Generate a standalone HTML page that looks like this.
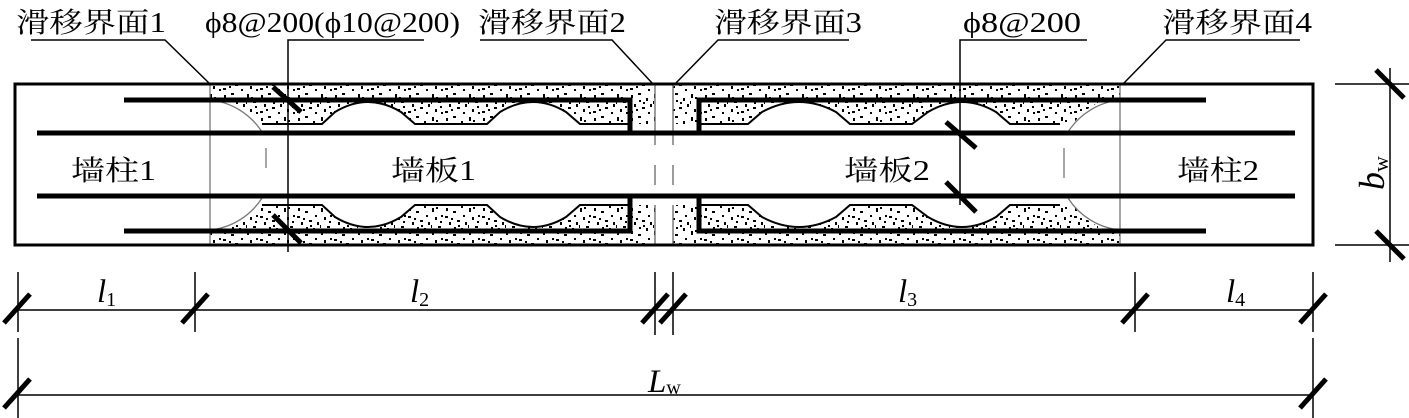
<!DOCTYPE html>
<html><head><meta charset="utf-8"><style>html,body{margin:0;padding:0;background:#fff}svg{display:block}</style></head><body>
<svg width="1409" height="418" viewBox="0 0 1409 418" xmlns="http://www.w3.org/2000/svg" font-family="Liberation Serif, Noto Serif CJK SC, serif">
<defs>
<pattern id="h" width="37" height="23" patternUnits="userSpaceOnUse">
<rect width="37" height="23" fill="#fff"/>
<g fill="#000">
<rect x="2" y="3" width="2" height="3"/><rect x="9" y="1" width="3" height="2"/><rect x="17" y="6" width="2" height="3"/><rect x="25" y="2" width="2" height="4"/><rect x="31" y="9" width="3" height="2"/>
<rect x="5" y="12" width="2" height="3"/><rect x="13" y="15" width="3" height="2"/><rect x="21" y="12" width="2" height="3"/><rect x="28" y="17" width="2" height="3"/><rect x="1" y="19" width="3" height="2"/>
<rect x="10" y="8" width="2" height="2"/><rect x="34" y="20" width="2" height="2"/><rect x="19" y="20" width="2" height="2"/>
<rect x="29" y="5" width="2" height="2"/><rect x="14" y="10" width="2" height="2"/><rect x="24" y="9" width="1" height="3"/><rect x="7" y="17" width="2" height="2"/><rect x="33" y="14" width="2" height="2"/>
</g></pattern>
</defs>
<g id="top">
<path d="M210,84 H655 V124 H580 L566,112 Q533,92 500,112 L487,124 H415 L401,112 Q368,92 335,112 L322,124 H257 A70,70 0 0 0 226,100 H210 Z" fill="url(#h)"/>
<path d="M673,84 H1120 V100 H1104 A70,70 0 0 0 1073,124 H1010 L996,112 Q962,92 928,112 L912,124 H850 L836,112 Q799,92 762,112 L748,124 H673 Z" fill="url(#h)"/>
<path d="M630,124 H580 L566,112 Q533,92 500,112 L487,124 H415 L401,112 Q368,92 335,112 L322,124 H262" fill="none" stroke="#000" stroke-width="2"/>
<path d="M699,124 H748 L762,112 Q799,92 836,112 L850,124 H912 L928,112 Q962,92 996,112 L1010,124 H1060" fill="none" stroke="#000" stroke-width="2"/>
</g>
<use href="#top" transform="matrix(1,0,0,-1,0,329)"/>
<g fill="none" stroke="#777" stroke-width="1.3">
<path d="M210,100 A70,70 0 0 1 262,132"/><path d="M266,148 V168"/><path d="M262,198 A70,70 0 0 1 210,230"/>
<path d="M1120,100 A70,70 0 0 0 1068,132"/><path d="M1064,148 V178"/><path d="M1068,198 A70,70 0 0 0 1120,230"/>
<line x1="210" y1="84" x2="210" y2="245"/><line x1="1120" y1="84" x2="1120" y2="245"/>
</g>
<g stroke="#666" stroke-width="1.3">
<path d="M655,84 V145 M655,165 V185 M655,205 V245 M673,84 V145 M673,165 V185 M673,205 V245"/>
</g>
<g stroke="#000" stroke-width="5" fill="none">
<path d="M124,100 H630 V133"/><path d="M1206,100 H699 V133"/>
<path d="M37,133 H1295"/><path d="M37,196 H1295"/>
<path d="M124,231 H630 V196"/><path d="M1206,231 H699 V196"/>
<line x1="273" y1="87" x2="301" y2="112"/><line x1="273" y1="215" x2="301" y2="243"/>
<line x1="946" y1="122" x2="976" y2="148"/><line x1="946" y1="182" x2="976" y2="212"/>
</g>
<rect x="15" y="84" width="1298" height="161" fill="none" stroke="#000" stroke-width="3"/>
<g stroke="#000" stroke-width="1.5" fill="none">
<path d="M31,40 H165 L210,84"/><path d="M424,40 H288 V252"/><path d="M480,40 H612 L653,84"/>
<path d="M849,40 H718 L675,84"/><path d="M1087,40 H960 V205"/><path d="M1300,40 H1166 L1123,84"/>
</g>
<g font-size="28" fill="#000">
<text x="16" y="32" textLength="150" lengthAdjust="spacingAndGlyphs">滑移界面1</text>
<text x="205" y="32" textLength="255" lengthAdjust="spacingAndGlyphs">ϕ8@200(ϕ10@200)</text>
<text x="478" y="32" textLength="148" lengthAdjust="spacingAndGlyphs">滑移界面2</text>
<text x="714" y="32" textLength="148" lengthAdjust="spacingAndGlyphs">滑移界面3</text>
<text x="963" y="32" textLength="118" lengthAdjust="spacingAndGlyphs">ϕ8@200</text>
<text x="1162" y="32" textLength="150" lengthAdjust="spacingAndGlyphs">滑移界面4</text>
<text x="71" y="180" textLength="85" lengthAdjust="spacingAndGlyphs">墙柱1</text>
<text x="391" y="180" textLength="85" lengthAdjust="spacingAndGlyphs">墙板1</text>
<text x="844" y="180" textLength="86" lengthAdjust="spacingAndGlyphs">墙板2</text>
<text x="1177" y="180" textLength="82" lengthAdjust="spacingAndGlyphs">墙柱2</text>
</g>
<g stroke="#000" stroke-width="1.5">
<line x1="15" y1="310" x2="1313" y2="310"/>
<line x1="15" y1="395" x2="1313" y2="395"/>
<path d="M18,272 V332 M195,272 V332 M655,272 V335 M673,272 V335 M1135,272 V332 M1313,272 V332"/>
<path d="M18,338 V418 M1313,338 V418"/>
<path d="M1335,84 H1409 M1335,245 H1409 M1390,68 V262"/>
</g>
<g stroke="#000" stroke-width="5">
<path d="M4,323 L30,294 M182,323 L208,294 M642,323 L668,294 M660,323 L686,294 M1122,323 L1148,294 M1300,323 L1326,294"/>
<path d="M4,408 L30,379 M1300,408 L1326,379"/>
<path d="M1376,70 L1404,98 M1376,231 L1404,259"/>
</g>
<g font-size="33" font-style="italic" fill="#000">
<text x="97" y="302">l<tspan font-size="20" font-style="normal" dy="4">1</tspan></text>
<text x="410" y="302">l<tspan font-size="20" font-style="normal" dy="4">2</tspan></text>
<text x="898" y="302">l<tspan font-size="20" font-style="normal" dy="4">3</tspan></text>
<text x="1226" y="302">l<tspan font-size="20" font-style="normal" dy="4">4</tspan></text>
<text x="648" y="392">L<tspan font-size="20" font-style="normal" dy="2">w</tspan></text>
<text transform="translate(1384,190) rotate(-90)" font-size="36">b<tspan font-size="22" font-style="normal" dy="4">w</tspan></text>
</g>
</svg>
</body></html>
